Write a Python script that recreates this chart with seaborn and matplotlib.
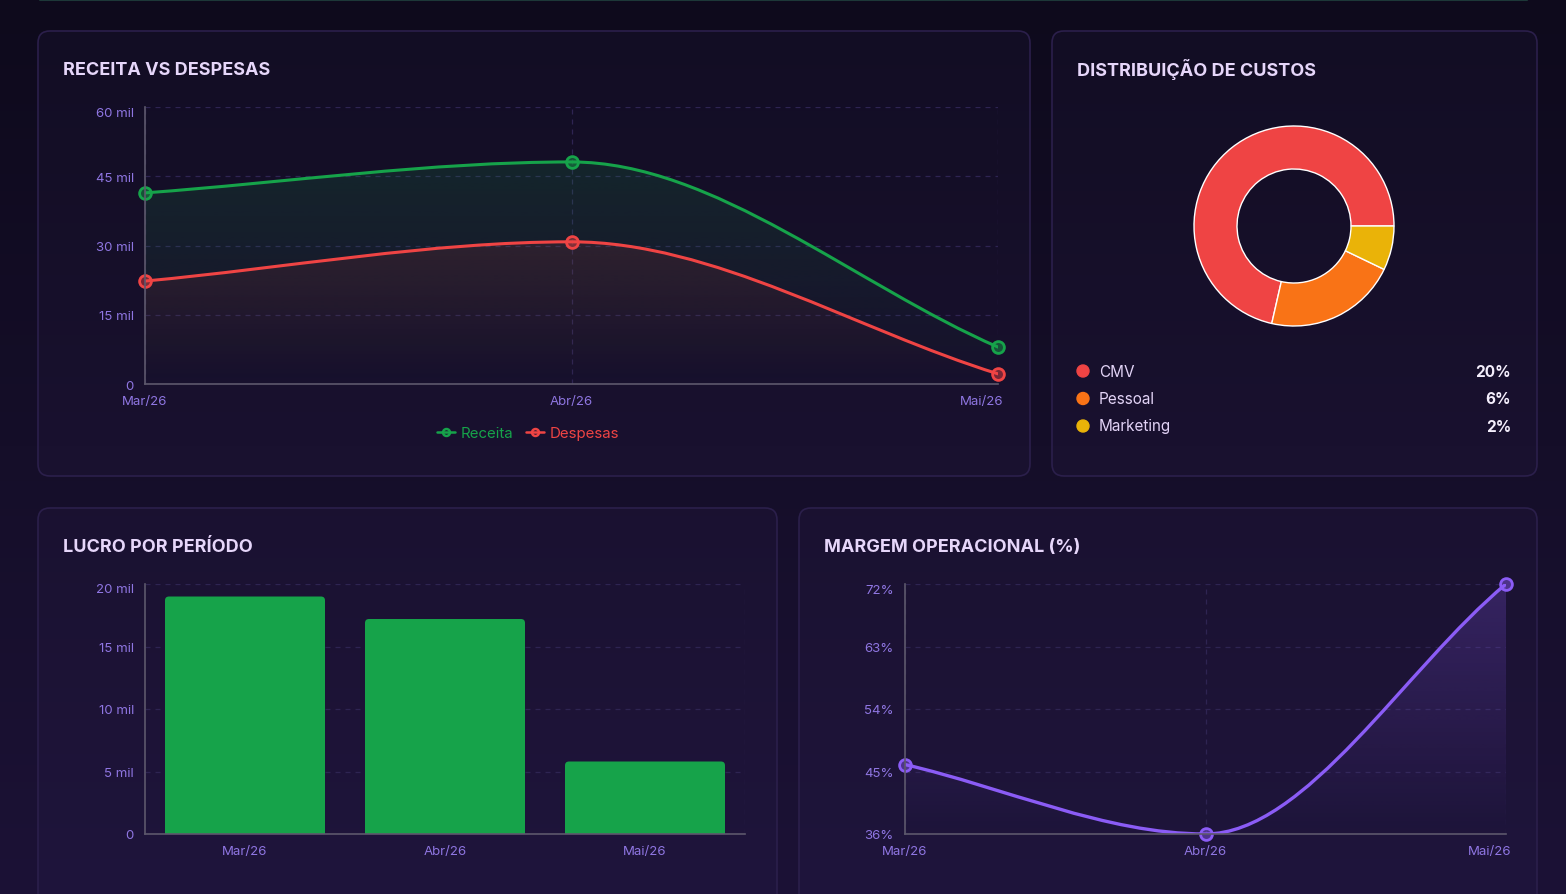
import numpy as np
import pandas as pd
import matplotlib
matplotlib.use('Agg')
import matplotlib.pyplot as plt
import seaborn as sns
from matplotlib.path import Path
from matplotlib.patches import PathPatch, FancyBboxPatch, Circle
from matplotlib.lines import Line2D
import matplotlib.transforms as mtransforms
from matplotlib.colors import to_rgb, to_rgba

# ---------------- data ----------------
months = ['Mar/26', 'Abr/26', 'Mai/26']
receita = [41400, 48100, 8000]
despesas = [22300, 30800, 2200]
lucro = [19000, 17200, 5800]
margem = [46.0, 36.0, 72.0]
cost_labels = ['CMV', 'Pessoal', 'Marketing']
cost_values = [20, 6, 2]
cost_pct_labels = ['20%', '6%', '2%']
y1_ticks = [0, 15000, 30000, 45000, 60000]
y1_labels = ['0', '15 mil', '30 mil', '45 mil', '60 mil']
y3_ticks = [0, 5000, 10000, 15000, 20000]
y3_labels = ['0', '5 mil', '10 mil', '15 mil', '20 mil']
y4_ticks = [36, 45, 54, 63, 72]
y4_labels = ['36%', '45%', '54%', '63%', '72%']

# ---------------- style ----------------
GREEN = '#16a34a'
RED = '#ef4444'
ORANGE = '#f97316'
YELLOW = '#eab308'
PURPLE = '#8b5cf6'
TICK = '#8f76e2'
GRID = '#2e2452'
SPINE = '#5d586c'
TITLE = '#e6d6fa'

sns.set_theme(style='dark')
plt.rcParams['font.family'] = ['Inter', 'DejaVu Sans']

W, H = 1566, 895
fig = plt.figure(figsize=(W / 100, H / 100), dpi=100)

# background axes in pixel coordinates
bg = fig.add_axes([0, 0, 1, 1])
bg.set_xlim(0, W)
bg.set_ylim(H, 0)
bg.axis('off')
top_c = np.array(to_rgb('#0e0a1c'))
bot_c = np.array(to_rgb('#1c1236'))
t = np.linspace(0, 1, 256)[:, None, None]
grad = top_c[None, None, :] * (1 - t) + bot_c[None, None, :] * t
bg.imshow(grad, extent=[0, W, H, 0], aspect='auto', zorder=0)
bg.plot([40, 1527], [0.5, 0.5], color='#1d3838', lw=1.5, zorder=1)


def panel(x0, y0, x1, y1):
    p = FancyBboxPatch((x0, y0), x1 - x0, y1 - y0,
                       boxstyle='round,pad=0,rounding_size=12',
                       fc=(0.6, 0.45, 1.0, 0.03), ec='#2b1f4b', lw=1.2, zorder=2)
    bg.add_patch(p)


panel(38, 32, 1030, 477)
panel(1052, 32, 1537, 477)
panel(38, 509, 777, 930)
panel(799, 509, 1537, 930)

for (x, y, s) in [(63, 70, 'RECEITA VS DESPESAS'), (1077, 70, 'DISTRIBUIÇÃO DE CUSTOS'),
                  (63, 547, 'LUCRO POR PERÍODO'), (824, 547, 'MARGEM OPERACIONAL (%)')]:
    bg.text(x, y, s, color=TITLE, fontsize=13, fontweight='bold', va='center', ha='left', zorder=3)


def pix_axes(l, t_, r, b):
    return fig.add_axes([l / W, 1 - b / H, (r - l) / W, (b - t_) / H])


def style(ax):
    ax.set_facecolor('none')
    for s in ['top', 'right']:
        ax.spines[s].set_visible(False)
    for s in ['left', 'bottom']:
        ax.spines[s].set_visible(True)
        ax.spines[s].set_color(SPINE)
        ax.spines[s].set_linewidth(1.2)
        ax.spines[s].set_zorder(6)
    ax.tick_params(length=0, colors=TICK, labelsize=9.5, pad=9)
    ax.set_xlabel('')
    ax.set_ylabel('')


def grid(ax, xgrid=True):
    ax.yaxis.grid(True, ls=(0, (4, 4)), color=GRID, lw=0.9)
    ax.xaxis.grid(xgrid, ls=(0, (4, 4)), color=GRID, lw=0.9)
    ax.set_axisbelow(True)


def monotone(xs, ys):
    n = len(xs)
    d = [(ys[i + 1] - ys[i]) / (xs[i + 1] - xs[i]) for i in range(n - 1)]
    m = [0.0] * n
    m[0] = d[0]
    m[-1] = d[-1]
    for i in range(1, n - 1):
        m[i] = 0.0 if d[i - 1] * d[i] <= 0 else (d[i - 1] + d[i]) / 2
    for i in range(n - 1):
        if d[i] == 0:
            m[i] = m[i + 1] = 0.0
            continue
        a = m[i] / d[i]
        b = m[i + 1] / d[i]
        if a < 0 or b < 0:
            continue
        tau = a * a + b * b
        if tau > 9:
            k = 3 / np.sqrt(tau)
            m[i] = k * a * d[i]
            m[i + 1] = k * b * d[i]
    verts = [(xs[0], ys[0])]
    codes = [Path.MOVETO]
    for i in range(n - 1):
        dx = (xs[i + 1] - xs[i]) / 3
        verts += [(xs[i] + dx, ys[i] + m[i] * dx), (xs[i + 1] - dx, ys[i + 1] - m[i + 1] * dx),
                  (xs[i + 1], ys[i + 1])]
        codes += [Path.CURVE4] * 3
    return verts, codes


def smooth_series(ax, xs, ys, color, base, ytop, a_top, lw=2.2):
    verts, codes = monotone(xs, ys)
    area = Path(verts + [(xs[-1], base), (xs[0], base), (xs[0], ys[0])],
                codes + [Path.LINETO, Path.LINETO, Path.CLOSEPOLY])
    clip = PathPatch(area, fc='none', ec='none')
    ax.add_patch(clip)
    rgb = np.array(to_rgb(color))
    g = np.zeros((256, 1, 4))
    g[..., :3] = rgb
    g[:, 0, 3] = np.linspace(a_top, 0.0, 256)
    im = ax.imshow(g, extent=[xs[0], xs[-1], base, ytop], origin='upper', aspect='auto',
                   zorder=1, interpolation='bilinear')
    im.set_clip_path(clip)
    ax.add_patch(PathPatch(Path(verts, codes), fill=False, ec=color, lw=lw, zorder=4,
                           capstyle='round', joinstyle='round'))


def shift_last_xlabel(ax, px):
    lab = ax.get_xticklabels()[-1]
    lab.set_transform(lab.get_transform() + mtransforms.ScaledTranslation(px / 100, 0, fig.dpi_scale_trans))


def shift_top_ylabel(ax, px):
    lab = ax.get_yticklabels()[-1]
    lab.set_transform(lab.get_transform() + mtransforms.ScaledTranslation(0, -px / 100, fig.dpi_scale_trans))


def point_markers(ax, df, x, y, color):
    sns.scatterplot(data=df, x=x, y=y, s=72, color=to_rgba(color, 0.45), edgecolor=color,
                    linewidth=2.0, ax=ax, zorder=5, legend=False, clip_on=False)


pos = list(range(len(months)))

# ---------------- Receita vs Despesas ----------------
ax1 = pix_axes(145, 108, 998, 385)
style(ax1)
grid(ax1)
smooth_series(ax1, pos, receita, GREEN, 0, 60000, 0.2)
smooth_series(ax1, pos, despesas, RED, 0, 60000, 0.22)
point_markers(ax1, pd.DataFrame({'pos': pos, 'v': receita}), 'pos', 'v', GREEN)
point_markers(ax1, pd.DataFrame({'pos': pos, 'v': despesas}), 'pos', 'v', RED)
ax1.set_xlim(0, 2)
ax1.set_ylim(0, 60000)
ax1.set_xticks(pos)
ax1.set_xticklabels(months)
ax1.set_yticks(y1_ticks)
ax1.set_yticklabels(y1_labels)
ax1.tick_params(axis='x', pad=8)
ax1.tick_params(axis='y', pad=8)
ax1.set_xlabel('')
ax1.set_ylabel('')
shift_last_xlabel(ax1, -16)
shift_top_ylabel(ax1, 4)

handles = [Line2D([], [], color=GREEN, marker='o', markersize=5, markerfacecolor='none', lw=1.8, markeredgewidth=1.8),
           Line2D([], [], color=RED, marker='o', markersize=5, markerfacecolor='none', lw=1.8, markeredgewidth=1.8)]
leg = fig.legend(handles, ['Receita', 'Despesas'], loc='center', bbox_to_anchor=(528 / W, 1 - 434 / H),
                 ncol=2, frameon=False, fontsize=10.8, handlelength=1.2, handletextpad=0.35,
                 columnspacing=0.9)
for txt, c in zip(leg.get_texts(), [GREEN, RED]):
    txt.set_color(c)

# ---------------- Distribuição de custos ----------------
ax2 = pix_axes(1192, 125, 1396, 329)
ax2.set_facecolor('none')
ax2.pie(cost_values, colors=[RED, ORANGE, YELLOW], startangle=0, counterclock=True,
        wedgeprops=dict(width=0.43, edgecolor='white', linewidth=1.0))
ax2.set_xlim(-1.02, 1.02)
ax2.set_ylim(-1.02, 1.02)
ax2.set_aspect('equal')
ax2.axis('off')

for i, (lab, pct, c) in enumerate(zip(cost_labels, cost_pct_labels, [RED, ORANGE, YELLOW])):
    y = 372 + i * 27.5
    bg.add_patch(Circle((1083, y), 6, color=c, zorder=3))
    bg.text(1099, y, lab, color='#e2d3f6', fontsize=11, va='center', ha='left', zorder=3)
    bg.text(1511, y, pct, color='#f4eefc', fontsize=11, fontweight='bold', va='center', ha='right', zorder=3)

# ---------------- Lucro por período ----------------
ax3 = pix_axes(145, 585, 745, 835)
style(ax3)
grid(ax3)
df3 = pd.DataFrame({'mes': months, 'lucro': lucro})
sns.barplot(data=df3, x='mes', y='lucro', color=GREEN, saturation=1, width=0.8, ax=ax3, zorder=3)
rx, ry = 0.02, 320.0
for p in list(ax3.patches):
    x0, w, h = p.get_x(), p.get_width(), p.get_height()
    p.set_visible(False)
    fb = FancyBboxPatch((x0, -ry), w, h + ry, boxstyle=f'round,pad=0,rounding_size={rx}',
                        mutation_aspect=ry / rx, fc=GREEN, ec='none', zorder=3)
    ax3.add_patch(fb)
ax3.axvline(2.5, ls=(0, (4, 4)), color=GRID, lw=0.9, zorder=0)
ax3.set_xlim(-0.5, 2.5)
ax3.set_ylim(0, 20000)
ax3.set_yticks(y3_ticks)
ax3.set_yticklabels(y3_labels)
ax3.tick_params(axis='x', pad=8)
ax3.tick_params(axis='y', pad=8)
ax3.set_xlabel('')
ax3.set_ylabel('')
shift_top_ylabel(ax3, 4)

# ---------------- Margem operacional ----------------
ax4 = pix_axes(905, 585, 1506, 835)
style(ax4)
grid(ax4)
smooth_series(ax4, pos, margem, PURPLE, 36, 72, 0.24, lw=2.4)
point_markers(ax4, pd.DataFrame({'pos': pos, 'margem': margem}), 'pos', 'margem', PURPLE)
ax4.set_xlim(0, 2)
ax4.set_ylim(36, 72)
ax4.set_xticks(pos)
ax4.set_xticklabels(months)
ax4.set_yticks(y4_ticks)
ax4.set_yticklabels(y4_labels)
ax4.tick_params(axis='x', pad=8)
ax4.tick_params(axis='y', pad=8)
ax4.set_xlabel('')
ax4.set_ylabel('')
shift_last_xlabel(ax4, -16)
shift_top_ylabel(ax4, 4)

fig.savefig('out.png', dpi=100, facecolor=fig.get_facecolor())
